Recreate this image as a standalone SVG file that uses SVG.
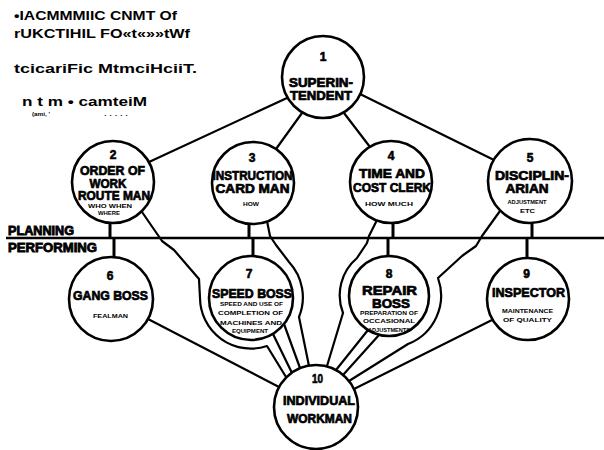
<svg xmlns="http://www.w3.org/2000/svg" width="604" height="450" viewBox="0 0 604 450">
<style>
.c{fill:#fff;stroke:#000;stroke-width:2.6}
.ln{fill:none;stroke:#000;stroke-width:2.2;stroke-linejoin:round;stroke-linecap:round}
.st{fill:none;stroke:#000;stroke-width:3}
.t{font-family:"Liberation Sans",Arial,sans-serif;font-weight:bold;fill:#000;text-anchor:middle}
.lb{font-size:12.5px;stroke:#000;stroke-width:0.7}
.num{font-size:12px;stroke:#000;stroke-width:0.6}
.sm{font-size:4.6px}
.hd{font-family:"Liberation Sans",Arial,sans-serif;font-weight:bold;font-size:13px;fill:#000}
.pl{font-family:"Liberation Sans",Arial,sans-serif;font-weight:bold;font-size:12px;fill:#000;stroke:#000;stroke-width:0.8}
</style>
<g id="title">
<text class="hd" x="14" y="19.5" textLength="163" lengthAdjust="spacingAndGlyphs">•IACMMMIIC CNMT Of</text>
<text class="hd" x="14" y="38" textLength="176" lengthAdjust="spacingAndGlyphs">rUKCTIHIL FO«t«»»tWf</text>
<text class="hd" x="14" y="73" textLength="183" lengthAdjust="spacingAndGlyphs">tcicariFic MtmciHciiT.</text>
<text class="hd" x="22" y="106" textLength="125" lengthAdjust="spacingAndGlyphs">n t m • camteiM</text>
<text class="hd" x="32" y="116" font-size="5" style="font-size:5px" textLength="18" lengthAdjust="spacingAndGlyphs">(ami, '</text>
<text class="hd" x="104" y="116" style="font-size:5px" textLength="24" lengthAdjust="spacingAndGlyphs">. . . . .</text>
</g>
<g id="divider">
<line x1="6" y1="238" x2="604" y2="238" stroke="#000" stroke-width="2.6"/>
<text class="pl" x="8" y="235" textLength="66" lengthAdjust="spacingAndGlyphs">PLANNING</text>
<text class="pl" x="8" y="252" textLength="89" lengthAdjust="spacingAndGlyphs">PERFORMING</text>
</g>
<g id="connectors">
<line class="ln" x1="287" y1="98" x2="149" y2="162"/>
<line class="ln" x1="302" y1="113" x2="276" y2="149"/>
<line class="ln" x1="344" y1="113" x2="370" y2="147"/>
<line class="ln" x1="360" y1="94" x2="494" y2="160"/>
<path class="st" d="M110,222 V238 M114,238 V258"/>
<path class="st" d="M249,223 V238 M253,238 V257"/>
<path class="st" d="M393,222 V238 M388,238 V257"/>
<path class="st" d="M532,222 V238 M527,238 V258"/>
<line class="ln" x1="148" y1="319" x2="279" y2="387"/>
<line class="ln" x1="492" y1="320" x2="354" y2="389"/>
<path class="ln" d="M142,212 L162,241 L174,250 L199,279 L200,298 A51,51 0 0 0 267,346 L286,377"/>
<path class="ln" d="M267,221 L270,236 L276,245 L289,262 A52,52 0 0 1 299,317 L309,366"/>
<path class="ln" d="M273,334 L292,373 M284,324 L300,368"/>
<path class="ln" d="M377,220 L369,236 L367,243 L357,258 A49,49 0 0 0 343,313 L327,366"/>
<path class="ln" d="M500,211 L482,236 L476,246 L462,256 L438,278 A52,52 0 0 1 408,344 L349,381"/>
<path class="ln" d="M368,330 L336,370 M379,335 L343,375"/>
</g>
<g id="n1">
<circle class="c" cx="323" cy="77" r="41"/>
<text class="t num" x="323" y="61">1</text>
<text class="t lb" x="321" y="87" textLength="64" lengthAdjust="spacingAndGlyphs">SUPERIN-</text>
<text class="t lb" x="321" y="99.5" textLength="62" lengthAdjust="spacingAndGlyphs">TENDENT</text>
</g>
<g id="n2">
<circle class="c" cx="113" cy="182" r="41"/>
<text class="t num" x="113" y="158.5">2</text>
<text class="t lb" x="112.5" y="175" textLength="65" lengthAdjust="spacingAndGlyphs">ORDER OF</text>
<text class="t lb" x="108" y="187.5" textLength="37" lengthAdjust="spacingAndGlyphs">WORK</text>
<text class="t lb" x="114" y="200" textLength="72" lengthAdjust="spacingAndGlyphs">ROUTE MAN</text>
<text class="t sm" x="110" y="207.5" textLength="44" lengthAdjust="spacingAndGlyphs">WHO WHEN</text>
<text class="t sm" x="109" y="215" textLength="22" lengthAdjust="spacingAndGlyphs">WHERE</text>
</g>
<g id="n3">
<circle class="c" cx="253" cy="183" r="41"/>
<text class="t num" x="252" y="162">3</text>
<text class="t lb" x="252.5" y="180" textLength="80" lengthAdjust="spacingAndGlyphs">INSTRUCTION</text>
<text class="t lb" x="252.5" y="193" textLength="74" lengthAdjust="spacingAndGlyphs">CARD MAN</text>
<text class="t sm" x="251" y="206" textLength="16" lengthAdjust="spacingAndGlyphs">HOW</text>
</g>
<g id="n4">
<circle class="c" cx="391" cy="182" r="41"/>
<text class="t num" x="391" y="160">4</text>
<text class="t lb" x="392" y="178" textLength="66" lengthAdjust="spacingAndGlyphs">TIME AND</text>
<text class="t lb" x="392" y="192" textLength="78" lengthAdjust="spacingAndGlyphs">COST CLERK</text>
<text class="t sm" x="389" y="205.5" textLength="48" lengthAdjust="spacingAndGlyphs">HOW MUCH</text>
</g>
<g id="n5">
<circle class="c" cx="530" cy="181" r="42"/>
<text class="t num" x="530" y="162">5</text>
<text class="t lb" x="532" y="180" textLength="74" lengthAdjust="spacingAndGlyphs">DISCIPLIN-</text>
<text class="t lb" x="527" y="193" textLength="43" lengthAdjust="spacingAndGlyphs">ARIAN</text>
<text class="t sm" x="527" y="204" textLength="39" lengthAdjust="spacingAndGlyphs">ADJUSTMENT</text>
<text class="t sm" x="527.5" y="213" textLength="15" lengthAdjust="spacingAndGlyphs">ETC</text>
</g>
<g id="n6">
<circle class="c" cx="111" cy="299" r="42"/>
<text class="t num" x="110" y="280">6</text>
<text class="t lb" x="110.5" y="300" textLength="75" lengthAdjust="spacingAndGlyphs">GANG BOSS</text>
<text class="t sm" x="110.5" y="318" textLength="35" lengthAdjust="spacingAndGlyphs">FEALMAN</text>
</g>
<g id="n7">
<circle class="c" cx="251" cy="298" r="42"/>
<text class="t num" x="249" y="278">7</text>
<text class="t lb" x="252" y="298" textLength="80" lengthAdjust="spacingAndGlyphs">SPEED BOSS</text>
<text class="t sm" x="251.5" y="305.5" textLength="63" lengthAdjust="spacingAndGlyphs">SPEED AND USE OF</text>
<text class="t sm" x="250.5" y="315" textLength="65" lengthAdjust="spacingAndGlyphs">COMPLETION OF</text>
<text class="t sm" x="251" y="325" textLength="62" lengthAdjust="spacingAndGlyphs">MACHINES AND</text>
<text class="t sm" x="250" y="333" textLength="36" lengthAdjust="spacingAndGlyphs">EQUIPMENT</text>
</g>
<g id="n8">
<circle class="c" cx="389" cy="296" r="40"/>
<text class="t num" x="389" y="278">8</text>
<text class="t lb" x="389.5" y="295" textLength="55" lengthAdjust="spacingAndGlyphs">REPAIR</text>
<text class="t lb" x="391" y="308" textLength="38" lengthAdjust="spacingAndGlyphs">BOSS</text>
<text class="t sm" x="389" y="315" textLength="58" lengthAdjust="spacingAndGlyphs">PREPARATION OF</text>
<text class="t sm" x="389" y="323" textLength="52" lengthAdjust="spacingAndGlyphs">OCCASIONAL</text>
<text class="t sm" x="389" y="332" textLength="42" lengthAdjust="spacingAndGlyphs">ADJUSTMENTS</text>
</g>
<g id="n9">
<circle class="c" cx="528" cy="299" r="41"/>
<text class="t num" x="526.5" y="278">9</text>
<text class="t lb" x="528.5" y="297" textLength="73" lengthAdjust="spacingAndGlyphs">INSPECTOR</text>
<text class="t sm" x="527.5" y="313" textLength="51" lengthAdjust="spacingAndGlyphs">MAINTENANCE</text>
<text class="t sm" x="527.5" y="322" textLength="49" lengthAdjust="spacingAndGlyphs">OF QUALITY</text>
</g>
<g id="n10">
<circle class="c" cx="316" cy="407" r="42"/>
<text class="t num" x="317.5" y="383" textLength="11" lengthAdjust="spacingAndGlyphs">10</text>
<text class="t lb" x="319" y="405" textLength="72" lengthAdjust="spacingAndGlyphs">INDIVIDUAL</text>
<text class="t lb" x="319.5" y="423" textLength="65" lengthAdjust="spacingAndGlyphs">WORKMAN</text>
</g>
</svg>
